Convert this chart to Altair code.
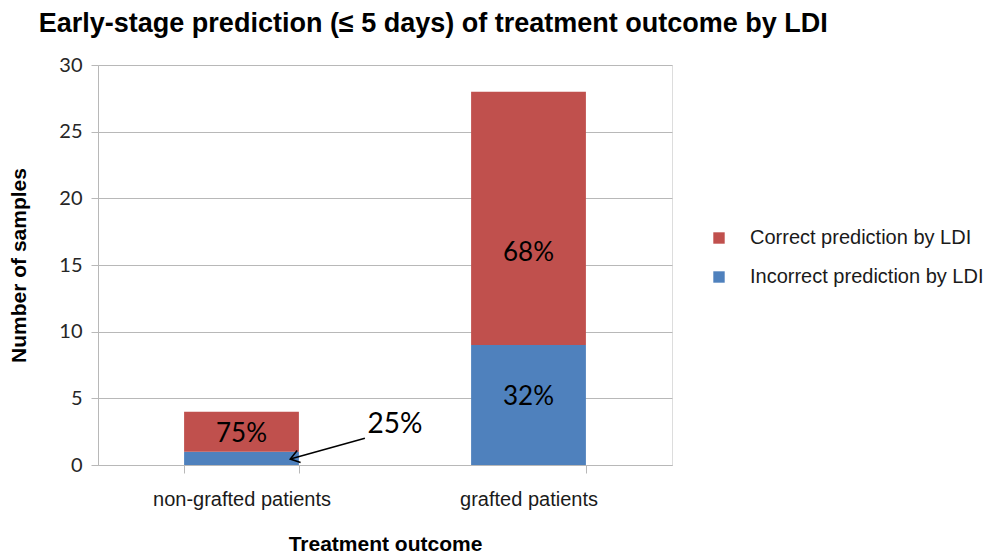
import altair as alt
import pandas as pd

# ---- data ----
categories = ["non-grafted patients", "grafted patients"]
series = ["Correct prediction by LDI", "Incorrect prediction by LDI"]
correct = [3, 19]
incorrect = [1, 9]
correct_pct = ["75%", "68%"]
incorrect_pct = ["25%", "32%"]
colors = ["#C0504D", "#4F81BD"]

# where the in-bar percentage labels sit (value units)
correct_label_y = [2.3, 15.9]
incorrect_label_y = [None, 5.1]

# annotation (callout for the small 25% segment), in data units:
# x axis of the callout layer runs 0..2 across the two category bands
arrow_tail = [0.93, 2.0]
arrow_tip = [0.67, 0.45]
callout_pos = [1.035, 3.0]
callout_text = incorrect_pct[0]

# ---- tables ----
rows = []
for i, c in enumerate(categories):
    rows.append(dict(cat=c, series=series[1], value=incorrect[i], ord=0,
                     mid=incorrect_label_y[i], label=incorrect_pct[i],
                     show=incorrect_label_y[i] is not None))
    rows.append(dict(cat=c, series=series[0], value=correct[i], ord=1,
                     mid=correct_label_y[i], label=correct_pct[i], show=True))
df = pd.DataFrame(rows)
ann = pd.DataFrame([dict(x0=arrow_tail[0], y0=arrow_tail[1], x1=arrow_tip[0], y1=arrow_tip[1],
                         tx=callout_pos[0], ty=callout_pos[1], t=callout_text)])

AR = "Liberation Sans"
CAL = "Lato"
GRID = "#B8B8B8"

xscale = alt.Scale(paddingInner=0.6, paddingOuter=0.3)
xenc = alt.X("cat:N", sort=categories, scale=xscale,
             axis=alt.Axis(title="Treatment outcome", labelAngle=0, tickBand="extent",
                           labelFont=AR, labelFontSize=20, labelColor="#1a1a1a",
                           labelPadding=16, titleFont=AR, titleFontSize=21,
                           titleFontWeight="bold", titleColor="#000", titlePadding=24,
                           domainColor=GRID, tickColor=GRID, tickSize=8, grid=False))
yscale = alt.Scale(domain=[0, 30], nice=False, zero=True)
yenc = alt.Y("value:Q", stack="zero", scale=yscale,
             axis=alt.Axis(title="Number of samples", values=[0, 5, 10, 15, 20, 25, 30],
                           labelFont=CAL, labelFontSize=20, labelColor="#262626",
                           labelPadding=9, titleFont=AR, titleFontSize=21,
                           titleFontWeight="bold", titleColor="#000", titlePadding=29,
                           domainColor=GRID, tickColor=GRID, tickSize=7,
                           grid=True, gridColor=GRID, gridWidth=1))

bars = alt.Chart(df).mark_bar().encode(
    x=xenc,
    y=yenc,
    color=alt.Color("series:N", scale=alt.Scale(domain=series, range=colors),
                    legend=alt.Legend(title=None, orient="none", legendX=611, legendY=163,
                                      symbolType="square", symbolSize=130,
                                      symbolStrokeWidth=0, labelFont=AR, labelFontSize=20,
                                      labelColor="#1a1a1a", labelOffset=21, rowPadding=19,
                                      padding=0, labelLimit=400)),
    order=alt.Order("ord:Q"),
)

texts = alt.Chart(df).transform_filter("datum.show").mark_text(
    font=CAL, fontSize=26, color="#000", baseline="middle"
).encode(
    x=alt.X("cat:N", sort=categories, scale=xscale),
    y=alt.Y("mid:Q", scale=yscale),
    text="label:N",
)

xq = alt.Scale(domain=[0, 2], nice=False, zero=False)
rule = alt.Chart(ann).mark_rule(color="#000", strokeWidth=1.6).encode(
    x=alt.X("x0:Q", scale=xq, axis=None),
    y=alt.Y("y0:Q", scale=yscale),
    x2="x1:Q",
    y2="y1:Q",
)
head = alt.Chart(ann).mark_point(
    shape="M-1,-0.7L0,0L-1,0.7", filled=False, color="#000", strokeWidth=1.6,
    size=320, angle=164, opacity=1
).encode(
    x=alt.X("x1:Q", scale=xq, axis=None),
    y=alt.Y("y1:Q", scale=yscale),
)
callout = alt.Chart(ann).mark_text(font=CAL, fontSize=28, color="#000", baseline="middle").encode(
    x=alt.X("tx:Q", scale=xq, axis=None),
    y=alt.Y("ty:Q", scale=yscale),
    text="t:N",
)

main = alt.layer(bars, texts)
chart = alt.layer(main, rule, head, callout).resolve_scale(x="independent").properties(
    width=574, height=400,
    title=alt.TitleParams("Early-stage prediction (≤ 5 days) of treatment outcome by LDI",
                          anchor="start", frame="bounds", font=AR, fontSize=27,
                          fontWeight="bold", color="#000", dx=30, offset=17),
    padding={"left": 0, "top": 2, "right": 5, "bottom": 0},
).configure_view(stroke=None).configure(background="white")

chart.save("out.html", embed_options={"renderer": "svg", "actions": False})
